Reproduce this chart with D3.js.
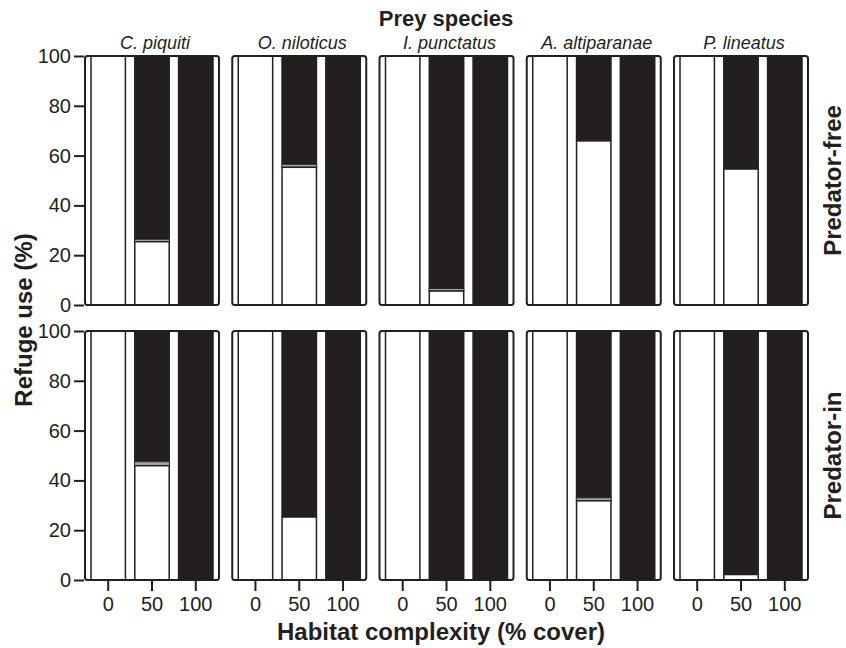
<!DOCTYPE html>
<html>
<head>
<meta charset="utf-8">
<script src="https://cdn.jsdelivr.net/npm/d3@7"></script>
<style>
  body { margin: 0; background: #fff; }
  svg { font-family: "Liberation Sans", Arial, Helvetica, sans-serif; }
  text { fill: #231f20; }
</style>
</head>
<body>
<svg></svg>
<script>
// Data
const species = ["C. piquiti", "O. niloticus", "I. punctatus", "A. altiparanae", "P. lineatus"]
const covers = ["0", "50", "100"]
const rows = ["Predator-free", "Predator-in"]
const yTicks = [0, 20, 40, 60, 80, 100]

// % white (bottom) and thin grey share per cover level, per species
const freeWhite0 = [100, 100, 100, 100, 100]
const freeWhite50 = [25.4, 55.3, 5.6, 65.9, 54.6]
const freeGrey50 = [1.0, 1.2, 1.0, 0, 0]
const freeWhite100 = [0, 0, 0, 0, 0]

const inWhite0 = [100, 100, 100, 100, 100]
const inWhite50 = [45.9, 25.3, 0, 31.8, 2.2]
const inGrey50 = [1.6, 0, 0, 1.2, 0]
const inWhite100 = [0, 0, 0, 0, 0]

const ink = "#231f20"

const svg = d3.select("svg")
  .attr("width", 846)
  .attr("height", 648)

const panelW = 134
const panelH = 249
const panelX = d3.scalePoint()
  .domain(species)
  .range([85, 674])
const rowTop = { "Predator-free": 56, "Predator-in": 331 }

const table = rows.map((row) => {
  const w0 = row === "Predator-free" ? freeWhite0 : inWhite0
  const w50 = row === "Predator-free" ? freeWhite50 : inWhite50
  const g50 = row === "Predator-free" ? freeGrey50 : inGrey50
  const w100 = row === "Predator-free" ? freeWhite100 : inWhite100
  return species.map((sp, i) => {
    return {
      row: row,
      species: sp,
      bars: [
        { cover: "0", white: w0[i], grey: 0 },
        { cover: "50", white: w50[i], grey: g50[i] },
        { cover: "100", white: w100[i], grey: 0 }
      ]
    }
  })
}).flat()

const scaleX = d3.scaleBand()
  .domain(covers)
  .range([0, panelW])
  .paddingInner(0.18)
  .paddingOuter(0.12)

const scaleY = d3.scaleLinear()
  .domain([0, 100])
  .range([panelH, 0])

const panels = svg
  .selectAll("g.panel")
  .data(table)
  .enter()
  .append("g")
  .attr("class", "panel")
  .attr("transform", (d, i) => {
    return `translate(${panelX(d.species)}, ${rowTop[d.row]})`
  })

const bars = panels
  .selectAll("g.bar")
  .data((d, i) => { return d.bars })
  .enter()
  .append("g")
  .attr("class", "bar")
  .attr("transform", (d, i) => { return `translate(${scaleX(d.cover)}, 0)` })

// black (top) part
bars
  .filter((d) => { return d.white + d.grey < 100 })
  .append("rect")
  .attr("x", 0)
  .attr("width", scaleX.bandwidth())
  .attr("y", 0)
  .attr("height", (d) => { return scaleY(d.white + d.grey) })
  .attr("fill", ink)

// thin grey part
bars
  .filter((d) => { return d.grey > 0 })
  .append("rect")
  .attr("x", 0.5)
  .attr("width", scaleX.bandwidth() - 1)
  .attr("y", (d) => { return scaleY(d.white + d.grey) })
  .attr("height", (d) => { return scaleY(d.white) - scaleY(d.white + d.grey) })
  .attr("fill", "#a7a7a7")
  .attr("stroke", ink)
  .attr("stroke-width", 1)

// white (bottom) part
bars
  .filter((d) => { return d.white > 0 })
  .append("rect")
  .attr("x", 0.75)
  .attr("width", scaleX.bandwidth() - 1.5)
  .attr("y", (d) => { return scaleY(d.white) })
  .attr("height", (d) => { return panelH - scaleY(d.white) })
  .attr("fill", "#fff")
  .attr("stroke", ink)
  .attr("stroke-width", 1.5)

// panel frame
panels
  .append("rect")
  .attr("x", 0)
  .attr("y", 0)
  .attr("width", panelW)
  .attr("height", panelH)
  .attr("rx", 2.5)
  .attr("fill", "none")
  .attr("stroke", ink)
  .attr("stroke-width", 2)

// y axes on first column
rows.forEach((row) => {
  const axisY = d3.axisLeft(scaleY)
    .tickValues(yTicks)
    .tickSizeInner(10)
    .tickSizeOuter(0)
    .tickPadding(3)

  const g = svg
    .append("g")
    .attr("class", "y-axis")
    .attr("transform", `translate(${panelX(species[0]) - 1}, ${rowTop[row]})`)
    .call(axisY)

  g.select(".domain").remove()
  g.selectAll("line").attr("stroke", ink).attr("stroke-width", 2)
  g.selectAll("text")
    .attr("font-size", 20)
    .attr("font-family", "'Liberation Sans', Arial, sans-serif")
    .attr("fill", ink)
})

// x axes on bottom row
species.forEach((sp) => {
  const axisX = d3.axisBottom(scaleX)
    .tickSizeInner(10)
    .tickSizeOuter(0)
    .tickPadding(6)

  const g = svg
    .append("g")
    .attr("class", "x-axis")
    .attr("transform", `translate(${panelX(sp)}, ${rowTop["Predator-in"] + panelH + 1})`)
    .call(axisX)

  g.select(".domain").remove()
  g.selectAll("line").attr("stroke", ink).attr("stroke-width", 2)
  g.selectAll("text")
    .attr("font-size", 20)
    .attr("font-family", "'Liberation Sans', Arial, sans-serif")
    .attr("fill", ink)
})

// strip labels
svg
  .selectAll("text.strip")
  .data(species)
  .enter()
  .append("text")
  .attr("class", "strip")
  .attr("x", (d) => { return panelX(d) + panelW / 2 + 3 })
  .attr("y", 49)
  .attr("text-anchor", "middle")
  .attr("font-size", 18)
  .attr("font-style", "italic")
  .text((d) => { return d })

// row labels
svg
  .selectAll("text.row")
  .data(rows)
  .enter()
  .append("text")
  .attr("class", "row")
  .attr("transform", (d) => {
    return `translate(841, ${rowTop[d] + panelH / 2}) rotate(-90)`
  })
  .attr("text-anchor", "middle")
  .attr("font-size", 24)
  .attr("font-weight", "bold")
  .text((d) => { return d })

svg
  .append("text")
  .attr("x", 446)
  .attr("y", 26)
  .attr("text-anchor", "middle")
  .attr("font-size", 22)
  .attr("font-weight", "bold")
  .text("Prey species")

svg
  .append("text")
  .attr("x", 441)
  .attr("y", 640)
  .attr("text-anchor", "middle")
  .attr("font-size", 24)
  .attr("font-weight", "bold")
  .text("Habitat complexity (% cover)")

svg
  .append("text")
  .attr("transform", "translate(32, 320) rotate(-90)")
  .attr("text-anchor", "middle")
  .attr("font-size", 24)
  .attr("font-weight", "bold")
  .text("Refuge use (%)")
</script>
</body>
</html>
